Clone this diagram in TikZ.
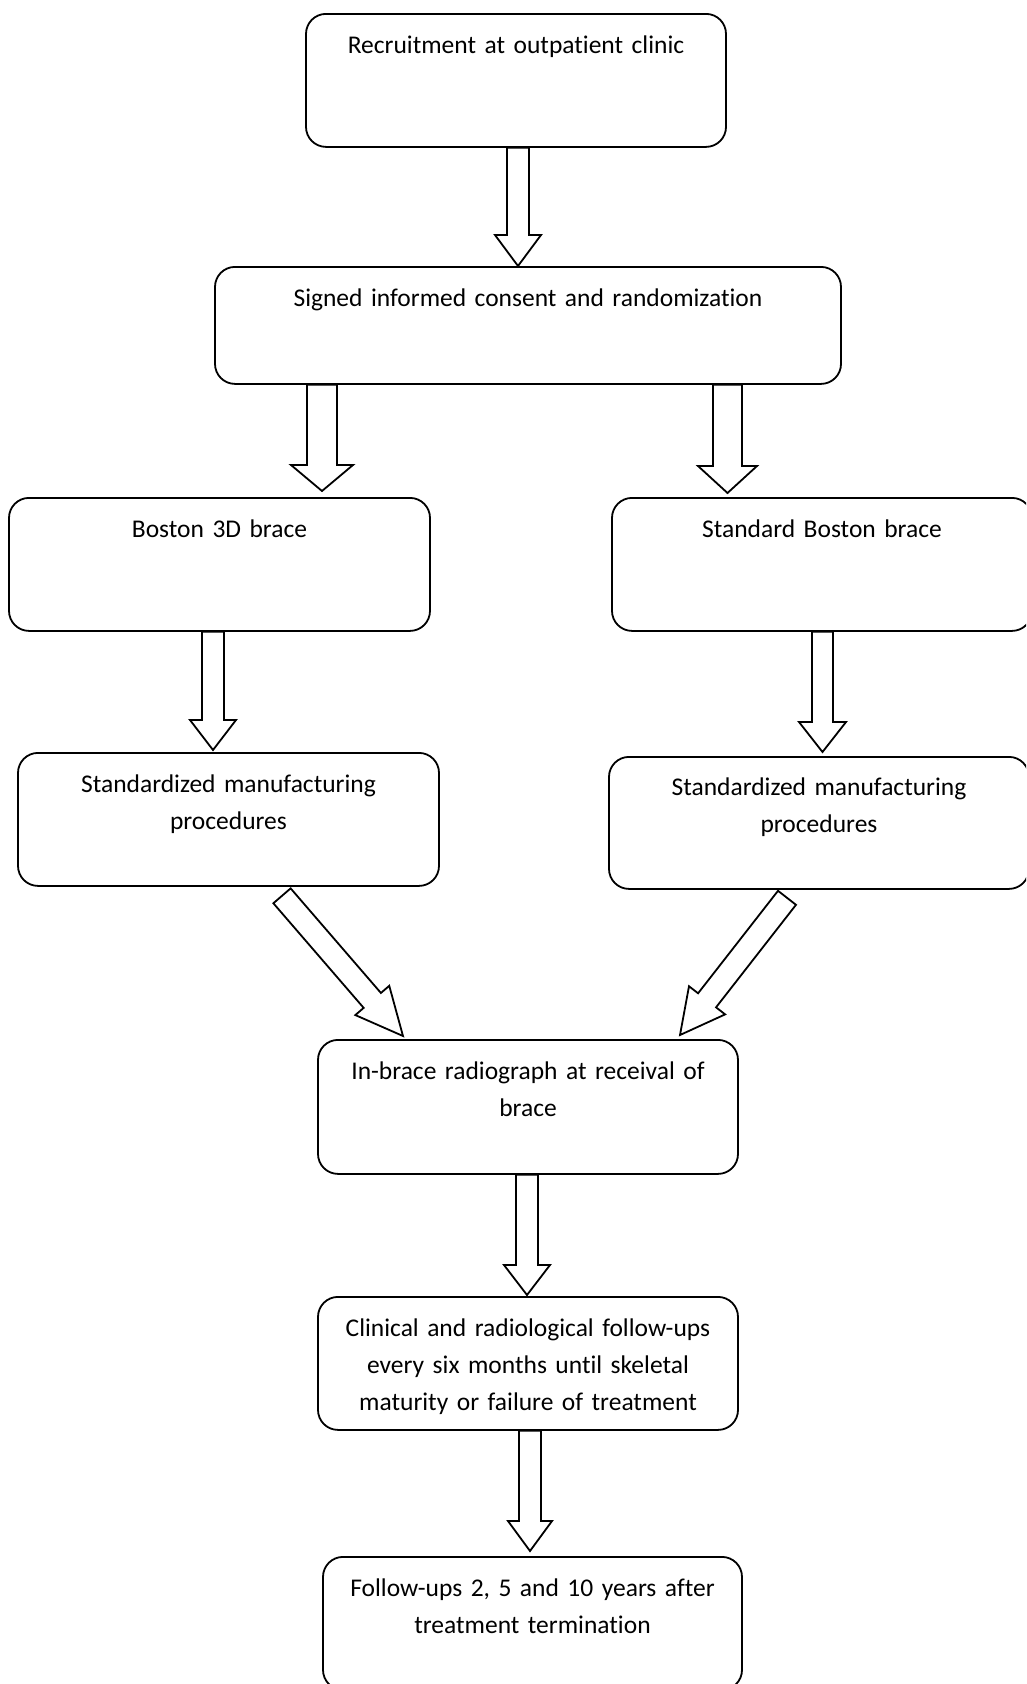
\documentclass[tikz,border=0pt]{standalone}
\usepackage{fontspec}
\setmainfont[Ligatures=NoCommon]{Carlito}
\usetikzlibrary{calc}

\tikzset{
  stage/.style={draw, line width=1.8pt, rounded corners=20pt, anchor=north,
    inner xsep=10pt, inner ysep=0pt, text width=400pt, align=center,
    text height=40pt, text depth=93pt, font=\fontsize{25.5}{36.7}\selectfont}
}

% block arrow: tail, tip, half shaft, half head, head length
\newcommand{\bigarrow}[5]{%
  \coordinate (ah) at ($(#2)!#5!(#1)$);
  \draw ($(#1)!#3!90:(#2)$) -- ($(ah)!#3!90:(#2)$) -- ($(ah)!#4!90:(#2)$) -- (#2)
    -- ($(ah)!#4!-90:(#2)$) -- ($(ah)!#3!-90:(#2)$) -- ($(#1)!#3!-90:(#2)$) -- cycle;
}

\begin{document}
\begin{tikzpicture}[x=1pt, y=-1pt]
    \useasboundingbox (0,0) rectangle (1026,1684);
    \clip (0,0) rectangle (1026,1684);

    \node[stage] (recruit) at (516,13) {Recruitment at outpatient clinic};
    \node[stage, text width=606pt, text depth=77pt] (consent) at (528,266) {Signed informed consent and randomization};

    \node[stage, text width=401pt] (boston3d) at (219.5,497) {Boston 3D brace};
    \node[stage] (standard) at (822,497) {Standard Boston brace};

    \node[stage, text width=401pt] (mfgleft) at (228.5,752) {Standardized manufacturing\\procedures};
    \node[stage, text height=39pt] (mfgright) at (819,756) {Standardized manufacturing\\procedures};

    \node[stage, text depth=94pt] (radiograph) at (528,1039) {In-brace radiograph at receival of\\brace};
    \node[stage] (followup) at (528,1296) {Clinical and radiological follow-ups\\every six months until skeletal\\maturity or failure of treatment};
    \node[stage, text width=399pt] (longterm) at (532.5,1556) {Follow-ups 2, 5 and 10 years after\\treatment termination};

    \begin{scope}[every path/.style={line width=1.8pt, line join=miter}]
       \bigarrow{recruit.south -| 518,0}{consent.north -| 518,0}{11pt}{23pt}{31pt}
       \bigarrow{consent.south -| 322,0}{$(boston3d.north -| 322,0)+(0,-6)$}{15pt}{31pt}{26pt}
       \bigarrow{consent.south -| 727.5,0}{$(standard.north -| 727.5,0)+(0,-4)$}{14.5pt}{29.5pt}{27pt}

       \bigarrow{boston3d.south -| 213,0}{$(mfgleft.north -| 213,0)+(0,-2)$}{11pt}{23pt}{30pt}
       \bigarrow{standard.south -| 822.5,0}{$(mfgright.north -| 822.5,0)+(0,-4)$}{10.5pt}{23.5pt}{30pt}

       \bigarrow{$(mfgleft.south -| 282,0)+(0,9)$}{$(radiograph.north -| 403,0)+(0,-3)$}{11.4pt}{22.4pt}{47pt}
       \bigarrow{$(mfgright.south -| 787,0)+(0,8)$}{$(radiograph.north -| 680,0)+(0,-4)$}{11.4pt}{22.9pt}{44pt}

       \bigarrow{radiograph.south -| 527,0}{$(followup.north -| 527,0)+(0,-1)$}{11pt}{23pt}{30pt}
       \bigarrow{followup.south -| 530,0}{$(longterm.north -| 530,0)+(0,-5)$}{11pt}{22pt}{30pt}
    \end{scope}
\end{tikzpicture}
\end{document}
